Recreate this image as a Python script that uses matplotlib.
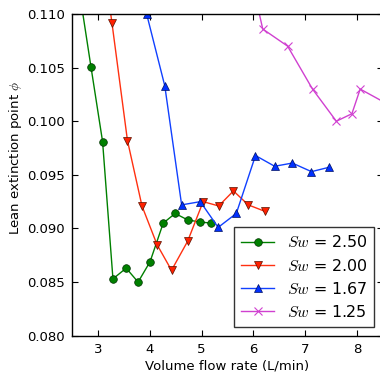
import matplotlib
matplotlib.use("Agg")
import matplotlib.pyplot as plt

plt.rcParams['mathtext.fontset'] = 'cm'
plt.rcParams['font.family'] = ['DejaVu Sans']

# Sw = 2.50
x_250 = [2.64, 2.865, 3.09, 3.29, 3.545, 3.775, 4.006, 4.26, 4.49, 4.73, 4.97, 5.19]
y_250 = [0.1122, 0.1051, 0.0981, 0.0853, 0.0863, 0.0850, 0.0869, 0.0905, 0.0914, 0.0908, 0.0906, 0.0905]
# Sw = 2.00
x_200 = [3.05, 3.27, 3.57, 3.85, 4.14, 4.42, 4.73, 5.03, 5.33, 5.615, 5.90, 6.22]
y_200 = [0.1170, 0.1092, 0.0982, 0.0921, 0.0885, 0.0861, 0.0888, 0.0925, 0.0921, 0.0935, 0.0922, 0.0916]
# Sw = 1.67
x_167 = [3.94, 4.29, 4.615, 4.975, 5.32, 5.67, 6.04, 6.41, 6.75, 7.12, 7.455]
y_167 = [0.1100, 0.1033, 0.0922, 0.0925, 0.0901, 0.0914, 0.0968, 0.0958, 0.0961, 0.0953, 0.0957]
# Sw = 1.25
x_125 = [5.95, 6.18, 6.66, 7.14, 7.60, 7.90, 8.06, 8.55]
y_125 = [0.1135, 0.1086, 0.1070, 0.1030, 0.1000, 0.1007, 0.1030, 0.1017]

labels = ['$Sw$ = 2.50', '$Sw$ = 2.00', '$Sw$ = 1.67', '$Sw$ = 1.25']

fig = plt.figure(figsize=(3.8, 3.74), dpi=100)
ax = fig.add_axes([72/380, 1-335.7/374, (383-72)/380, (335.7-14)/374])

ax.plot(x_250, y_250, '-o', color='#008000', mfc='#008000', mec='#003300',
        mew=0.5, ms=5.5, lw=1.0, label=labels[0])
ax.plot(x_200, y_200, '-v', color='#ff3010', mfc='#ff2000', mec='#551100',
        mew=0.5, ms=5.5, lw=1.0, label=labels[1])
ax.plot(x_167, y_167, '-^', color='#1040ff', mfc='#0030ff', mec='#001060',
        mew=0.5, ms=5.5, lw=1.0, label=labels[2])
ax.plot(x_125, y_125, '-x', color='#d040d0', mec='#d040d0',
        mew=0.8, ms=5.5, lw=1.0, label=labels[3])

ax.set_xlim(2.5, 8.5)
ax.set_ylim(0.080, 0.110)
ax.set_xticks([3, 4, 5, 6, 7, 8])
ax.set_yticks([0.080, 0.085, 0.090, 0.095, 0.100, 0.105, 0.110])
ax.set_yticklabels(['0.080', '0.085', '0.090', '0.095', '0.100', '0.105', '0.110'])
ax.tick_params(direction='in', top=True, right=True, length=4, width=0.8,
               labelsize=9.5, pad=5)
for s in ax.spines.values():
    s.set_linewidth(1.0)

ax.set_xlabel('Volume flow rate (L/min)', fontsize=9.5, labelpad=3)
ax.set_ylabel('Lean extinction point $\\phi$', fontsize=9.5)
ax.yaxis.set_label_coords(-(72 - 24) / 311, (335.7 - 157.5) / 321.7)

leg = ax.legend(loc='lower right', fontsize=11.4, numpoints=1, fancybox=False,
                borderpad=0.45, labelspacing=0.45, handletextpad=0.8,
                borderaxespad=0.55, handlelength=2.05, framealpha=1.0)
leg.get_frame().set_edgecolor('#333333')
leg.get_frame().set_linewidth(1.0)

fig.savefig('out.png', dpi=100)
